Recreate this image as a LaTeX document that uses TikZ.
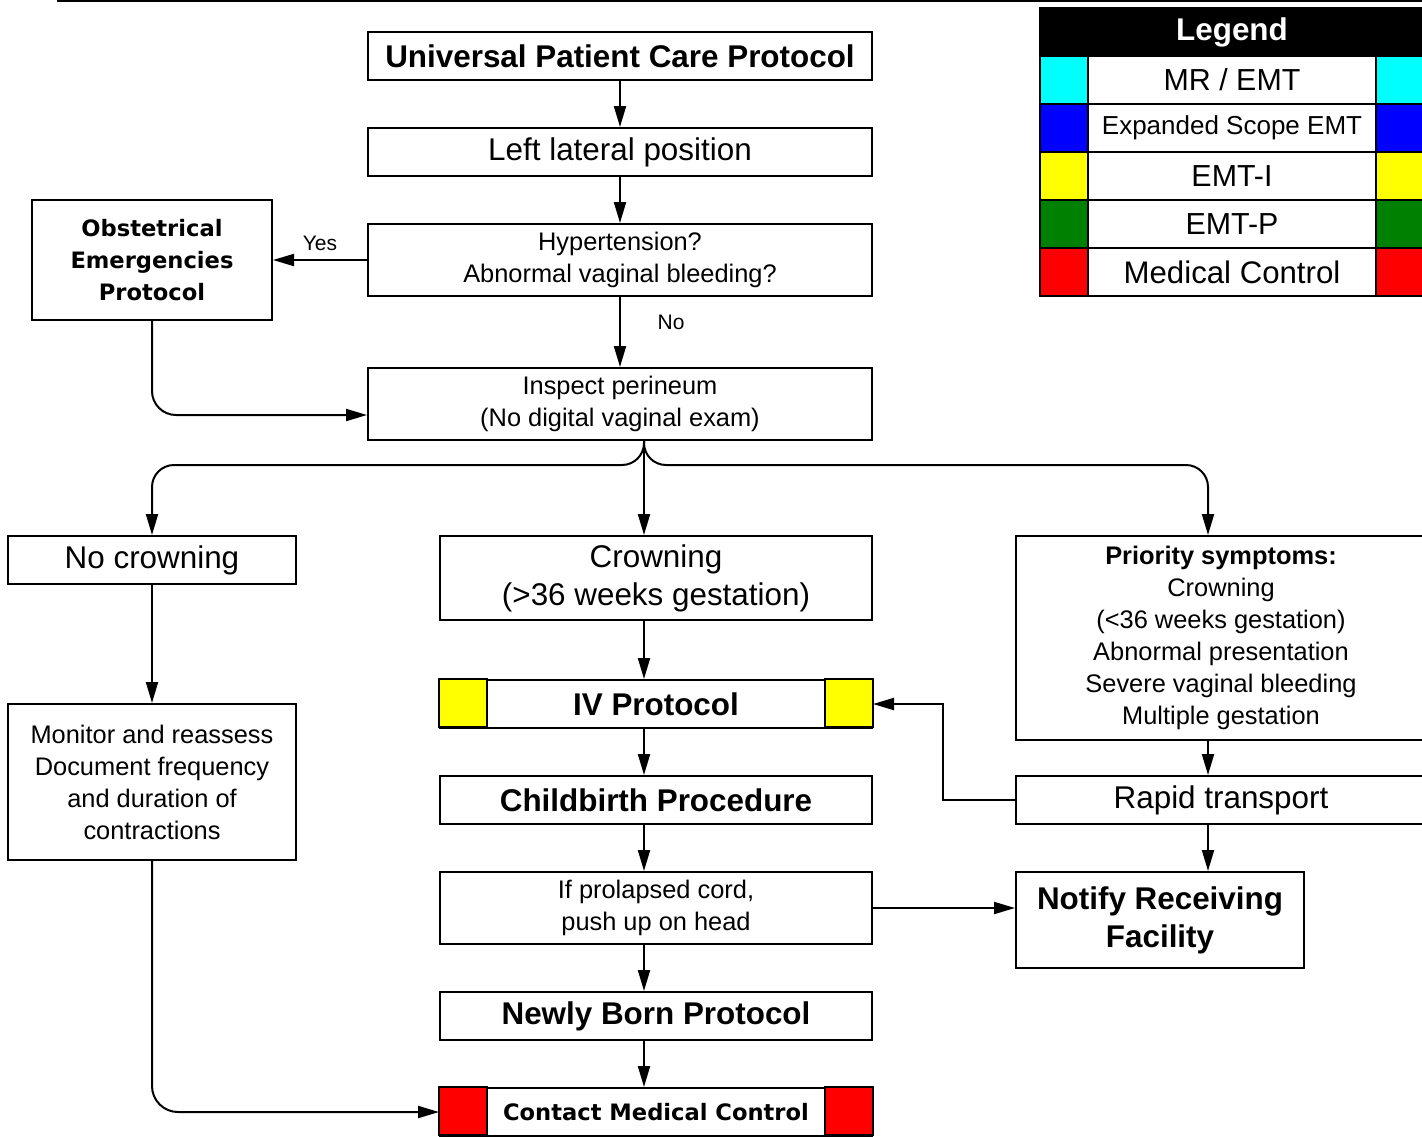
\documentclass[tikz,border=0pt]{standalone}
\usepackage{fontspec}
\setmainfont{Liberation Sans}
\newfontfamily\widefont{DejaVu Sans}
\usetikzlibrary{arrows.meta}
\definecolor{mremt}{RGB}{0,255,255}
\definecolor{expemt}{RGB}{0,0,255}
\definecolor{emti}{RGB}{255,255,0}
\definecolor{emtp}{RGB}{0,128,0}
\definecolor{medctl}{RGB}{255,0,0}
\newcommand{\bigtxt}{\fontsize{15.7}{19}\selectfont}
\newcommand{\midtxt}{\fontsize{12.7}{16}\selectfont}
\newcommand{\widetxt}{\widefont\bfseries\fontsize{11.3}{16}\selectfont}
\newcommand{\lbltxt}{\fontsize{10.5}{12}\selectfont}

\begin{document}
\begin{tikzpicture}[x=0.5pt,y=-0.5pt,
	box/.style={draw,line width=1pt,fill=white,inner sep=0pt,align=center},
	arr/.style={->,line width=1pt},
	>={Triangle[length=10.5pt,width=6pt]}]
	\useasboundingbox (0,0) rectangle (1422,1136);
	% rule along the top edge
	\draw[line width=1pt] (57,1) -- (1424,1);
	\draw[line width=1pt] (512,-4) -- (512,1);
	\draw[line width=1pt] (920,-4) -- (920,1);
	%
	\node[box,minimum width=252pt,minimum height=24pt,font=\bigtxt\bfseries] (upc) at (620,56) {Universal Patient Care Protocol};
	\node[box,minimum width=252pt,minimum height=24pt,font=\bigtxt] (llp) at (620,152) {Left lateral position};
	\node[box,minimum width=252pt,minimum height=36pt,font=\midtxt] (hyp) at (620,260) {Hypertension?\\Abnormal vaginal bleeding?};
	\node[box,minimum width=120pt,minimum height=60pt,font=\widetxt] (obs) at (152,260) {Obstetrical\\Emergencies\\Protocol};
	\node[box,minimum width=252pt,minimum height=36pt,font=\midtxt] (insp) at (620,404) {Inspect perineum\\(No digital vaginal exam)};
	\coordinate (fork) at ([xshift=12pt]insp.south);
	%
	\node[box,minimum width=144pt,minimum height=24pt,font=\bigtxt] (nocrown) at (152,560) {No crowning};
	\node[box,minimum width=144pt,minimum height=78pt,font=\midtxt] (monitor) at (152,782) {Monitor and reassess\\Document frequency\\and duration of\\contractions};
	%
	\node[box,minimum width=216pt,minimum height=42pt,font=\bigtxt] (crown) at (656,578) {Crowning\\(>36 weeks gestation)};
	\node[box,minimum width=216pt,minimum height=24pt,font=\bigtxt\bfseries] (iv) at (656,704) {IV Protocol};
		\filldraw[fill=emti,line width=1pt] (iv.north west) rectangle ++(48,48);
		\filldraw[fill=emti,line width=1pt] (iv.north east) rectangle ++(-48,48);
	\node[box,minimum width=216pt,minimum height=24pt,font=\bigtxt\bfseries] (child) at (656,800) {Childbirth Procedure};
	\node[box,minimum width=216pt,minimum height=36pt,font=\midtxt] (prolapse) at (656,908) {If prolapsed cord,\\push up on head};
	\node[box,minimum width=216pt,minimum height=24pt,font=\bigtxt\bfseries] (newborn) at (656,1016) {Newly Born Protocol};
	\node[box,minimum width=216pt,minimum height=24pt,font=\widetxt] (contact) at (656,1112) {Contact Medical Control};
		\filldraw[fill=medctl,line width=1pt] (contact.north west) rectangle ++(48,48);
		\filldraw[fill=medctl,line width=1pt] (contact.north east) rectangle ++(-48,48);
	%
	\node[box,minimum width=205pt,minimum height=102pt,font=\midtxt] (prio) at (1221,638) {\textbf{Priority symptoms:}\\Crowning\\(<36 weeks gestation)\\Abnormal presentation\\Severe vaginal bleeding\\Multiple gestation};
	\node[box,minimum width=205pt,minimum height=24pt,font=\bigtxt] (rapid) at (1221,800) {Rapid transport};
	\node[box,minimum width=144pt,minimum height=48pt,font=\bigtxt\bfseries] (notify) at (1160,920) {Notify Receiving\\Facility};
	%
	% legend
	\node[box,fill=black,text=white,minimum width=192pt,minimum height=24pt,font=\bigtxt\bfseries] (legend) at (1232,32) {Legend};
	\node[box,minimum width=144pt,minimum height=24pt,font=\fontsize{15.2}{18}\selectfont] (mrrow) at (1232,80) {MR / EMT};
		\filldraw[fill=mremt,line width=1pt] (1040,56) rectangle (1088,104);
		\filldraw[fill=mremt,line width=1pt] (1376,56) rectangle (1424,104);
	\node[box,minimum width=144pt,minimum height=24pt,font=\fontsize{13}{16}\selectfont] (exprow) at (1232,128) {Expanded Scope EMT};
		\filldraw[fill=expemt,line width=1pt] (1040,104) rectangle (1088,152);
		\filldraw[fill=expemt,line width=1pt] (1376,104) rectangle (1424,152);
	\node[box,minimum width=144pt,minimum height=24pt,font=\fontsize{15.2}{18}\selectfont] (emtirow) at (1232,176) {EMT-I};
		\filldraw[fill=emti,line width=1pt] (1040,152) rectangle (1088,200);
		\filldraw[fill=emti,line width=1pt] (1376,152) rectangle (1424,200);
	\node[box,minimum width=144pt,minimum height=24pt,font=\fontsize{15.2}{18}\selectfont] (emtprow) at (1232,224) {EMT-P};
		\filldraw[fill=emtp,line width=1pt] (1040,200) rectangle (1088,248);
		\filldraw[fill=emtp,line width=1pt] (1376,200) rectangle (1424,248);
	\node[box,minimum width=144pt,minimum height=24pt,font=\fontsize{15.6}{18}\selectfont] (medrow) at (1232,272) {Medical Control};
		\filldraw[fill=medctl,line width=1pt] (1040,248) rectangle (1088,296);
		\filldraw[fill=medctl,line width=1pt] (1376,248) rectangle (1424,296);
	%
	% connectors
	\draw[arr] (upc) -- (llp);
	\draw[arr] (llp) -- (hyp);
	\draw[arr] (hyp) -- node[above=1pt,font=\lbltxt] {Yes} (obs);
	\draw[arr] (hyp) -- node[pos=0.36,right=15pt,font=\lbltxt] {No} (insp);
	\draw[arr,rounded corners=12pt] (obs.south) |- ([yshift=-5.5pt]insp.west);
	\draw[arr,rounded corners=11pt] (fork) -- ++(0,24) -| (nocrown.north);
	\draw[arr] (fork) -- (fork |- crown.north);
	\draw[arr,rounded corners=11pt] (fork) -- ++(0,24) -| ([xshift=-6.5pt]prio.north);
	\draw[arr] (nocrown) -- (monitor);
	\draw[arr,rounded corners=13pt] (monitor.south) |- (contact.west);
	\draw[arr] (fork |- crown.south) -- (fork |- iv.north);
	\draw[arr] (fork |- iv.south) -- (fork |- child.north);
	\draw[arr] (fork |- child.south) -- (fork |- prolapse.north);
	\draw[arr] (fork |- prolapse.south) -- (fork |- newborn.north);
	\draw[arr] (fork |- newborn.south) -- (fork |- contact.north);
	\draw[arr] ([xshift=-6.5pt]prio.south) -- ([xshift=-6.5pt]rapid.north);
	\draw[arr] (rapid.west) -- ++(-72,0) |- (iv.east);
	\draw[arr] ([xshift=-6.5pt]rapid.south) -- ([xshift=-6.5pt]rapid.south |- notify.north);
	\draw[arr] (prolapse.east) -- (prolapse.east -| notify.west);
\end{tikzpicture}
\end{document}
